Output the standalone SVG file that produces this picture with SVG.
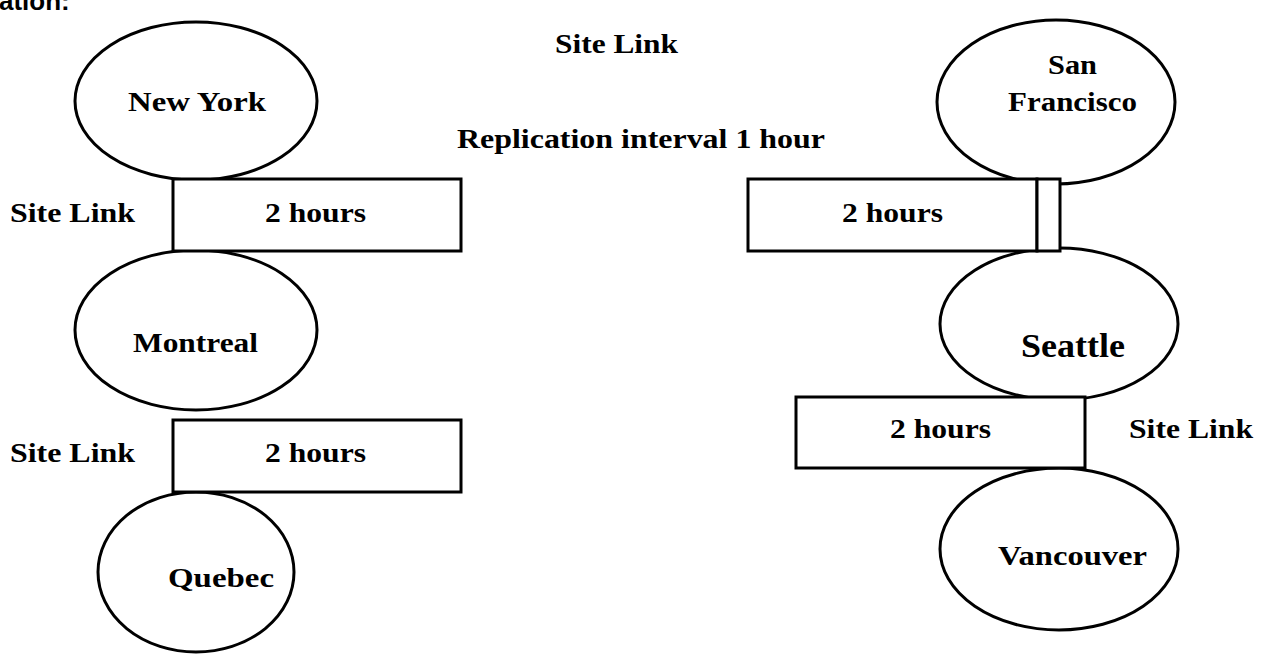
<svg xmlns="http://www.w3.org/2000/svg" width="1266" height="657" viewBox="0 0 1266 657">
<style>
.site{fill:#fff;stroke:#000;stroke-width:3}
.link{fill:#fff;stroke:#000;stroke-width:3}
.t{font-family:"Liberation Serif","Times New Roman",serif;font-weight:bold;font-size:28px;fill:#000}
.big{font-size:34px}
.cap{font-family:"Liberation Sans",Arial,sans-serif;font-weight:bold;font-size:26px;fill:#000}
</style>
<rect width="1266" height="657" fill="#fff"/>
<text class="cap" x="-1" y="10">ation:</text>
<text class="t" x="555" y="53" textLength="123" lengthAdjust="spacingAndGlyphs">Site Link</text>
<text class="t" x="457" y="148" textLength="368" lengthAdjust="spacingAndGlyphs">Replication interval 1 hour</text>
<g id="newyork"><ellipse class="site" cx="196" cy="101" rx="121" ry="79"/><text class="t" x="128" y="111" textLength="138" lengthAdjust="spacingAndGlyphs">New York</text></g>
<g id="montreal"><ellipse class="site" cx="196" cy="330" rx="121" ry="80"/><text class="t" x="133" y="352" textLength="125" lengthAdjust="spacingAndGlyphs">Montreal</text></g>
<g id="quebec"><ellipse class="site" cx="196" cy="572" rx="98" ry="80"/><text class="t" x="168" y="587" textLength="106" lengthAdjust="spacingAndGlyphs">Quebec</text></g>
<g id="sanfrancisco"><ellipse class="site" cx="1056" cy="102" rx="119" ry="82"/><text class="t" x="1048" y="74" textLength="49" lengthAdjust="spacingAndGlyphs">San</text><text class="t" x="1008" y="111" textLength="129" lengthAdjust="spacingAndGlyphs">Francisco</text></g>
<g id="seattle"><ellipse class="site" cx="1059" cy="324" rx="119" ry="76"/><text class="t big" x="1021" y="357" textLength="104" lengthAdjust="spacingAndGlyphs">Seattle</text></g>
<g id="vancouver"><ellipse class="site" cx="1059" cy="549" rx="119" ry="81"/><text class="t" x="998" y="565" textLength="149" lengthAdjust="spacingAndGlyphs">Vancouver</text></g>
<g id="connectors">
<g id="link-ny-montreal"><rect class="link" x="173" y="179" width="288" height="72"/><text class="t" x="265" y="222" textLength="101" lengthAdjust="spacingAndGlyphs">2 hours</text><text class="t" x="10" y="222" textLength="125" lengthAdjust="spacingAndGlyphs">Site Link</text></g>
<g id="link-montreal-quebec"><rect class="link" x="173" y="420" width="288" height="72"/><text class="t" x="265" y="462" textLength="101" lengthAdjust="spacingAndGlyphs">2 hours</text><text class="t" x="10" y="462" textLength="125" lengthAdjust="spacingAndGlyphs">Site Link</text></g>
<g id="link-sf-seattle"><rect class="link" x="748" y="179" width="289" height="72"/><rect class="link" x="1037" y="179" width="23" height="72"/><text class="t" x="842" y="222" textLength="101" lengthAdjust="spacingAndGlyphs">2 hours</text></g>
<g id="link-seattle-vancouver"><rect class="link" x="796" y="397" width="289" height="71"/><text class="t" x="890" y="438" textLength="101" lengthAdjust="spacingAndGlyphs">2 hours</text><text class="t" x="1129" y="438" textLength="124" lengthAdjust="spacingAndGlyphs">Site Link</text></g>
</g>
</svg>
